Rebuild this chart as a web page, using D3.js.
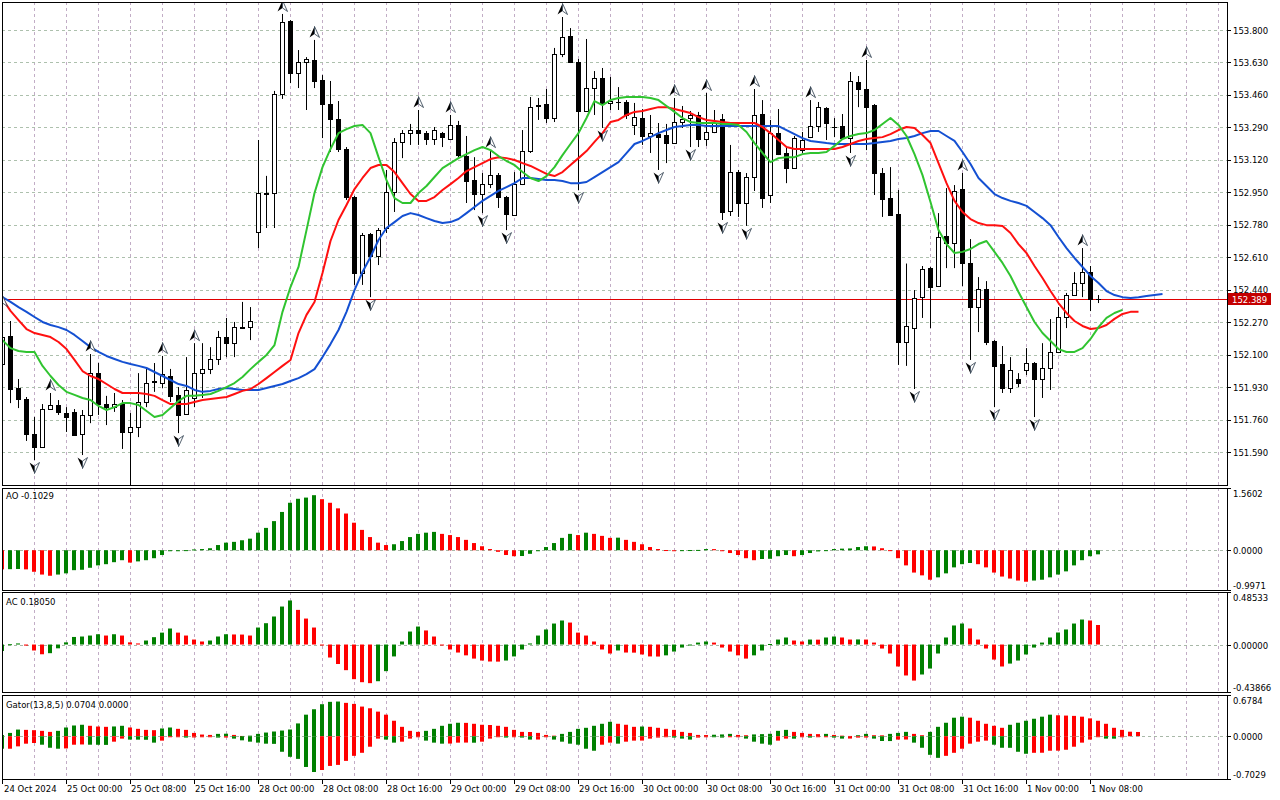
<!DOCTYPE html>
<html>
<head>
<meta charset="utf-8">
<script src="https://cdn.jsdelivr.net/npm/d3@7"></script>
<style>
body{margin:0;background:#fff;}
text{font-family:"DejaVu Sans",Tahoma,sans-serif;font-size:8.5px;fill:#000;}
</style>
</head>
<body>
<div class="chart"></div>
<script>
// USDJPY H1, 24 Oct 16:00 .. 1 Nov 09:00
var opens = [152.051,152.198,151.925,151.868,151.684,151.616,151.815,151.836,151.794,151.800,
151.684,151.784,152.003,151.841,151.825,151.841,151.695,151.720,151.852,151.957,
151.951,151.988,151.889,151.789,151.873,152.003,152.025,152.077,152.192,152.160,
152.244,152.244,152.742,152.941,152.946,153.465,153.847,153.574,153.633,153.643,
153.538,153.412,153.334,153.177,152.925,152.527,152.731,152.617,152.763,152.951,
153.214,153.260,153.276,153.260,153.229,153.260,153.229,153.303,153.140,153.014,
152.941,152.993,153.041,152.925,152.831,152.993,153.166,153.402,153.412,153.339,
153.674,153.769,153.633,153.376,153.496,153.548,153.418,153.423,153.423,153.303,
153.339,153.245,153.255,153.250,153.208,153.318,153.339,153.355,153.229,153.266,
153.334,152.852,153.056,152.894,153.030,153.360,152.936,153.260,153.156,153.077,
153.171,153.239,153.297,153.391,153.292,153.297,153.234,153.527,153.491,153.407,
153.051,152.920,152.836,152.166,152.239,152.401,152.553,152.459,152.721,152.684,
152.967,152.580,152.349,152.443,152.171,152.051,151.925,151.972,152.019,152.056,
151.972,152.030,152.113,152.297,152.412,152.475,152.532,152.391];
var highs = [152.339,152.276,151.972,151.878,151.773,151.841,151.899,151.862,151.825,151.815,
151.810,152.103,152.056,151.884,151.899,151.862,151.794,152.003,152.035,152.056,
152.093,152.025,151.930,152.087,152.160,152.160,152.139,152.224,152.292,152.271,
152.376,152.349,153.224,153.036,153.481,153.884,153.852,153.695,153.658,153.748,
153.564,153.533,153.428,153.187,152.931,152.737,152.737,152.763,153.067,153.234,
153.276,153.308,153.381,153.271,153.292,153.266,153.355,153.324,153.245,153.134,
153.051,153.171,153.051,152.931,153.056,153.276,153.449,153.444,153.491,153.706,
153.868,153.810,153.648,153.753,153.585,153.601,153.554,153.501,153.433,153.418,
153.386,153.355,153.313,153.308,153.444,153.402,153.376,153.371,153.470,153.381,
153.360,153.198,153.067,153.051,153.491,153.433,153.329,153.386,153.187,153.245,
153.266,153.433,153.423,153.396,153.339,153.360,153.580,153.559,153.643,153.412,
153.077,153.082,152.962,152.577,152.438,152.564,152.559,152.841,152.972,152.988,
153.051,152.705,152.506,152.485,152.176,152.145,152.087,152.003,152.134,152.061,
152.160,152.286,152.349,152.423,152.532,152.658,152.564,152.412];
var lows = [152.030,151.846,151.820,151.648,151.548,151.611,151.810,151.784,151.695,151.674,
151.574,151.741,151.784,151.731,151.800,151.606,151.401,151.668,151.825,151.905,
151.925,151.852,151.689,151.784,151.825,151.873,151.998,152.046,152.087,152.087,
152.234,152.176,152.658,152.763,152.763,153.439,153.522,153.496,153.381,153.496,
153.234,153.161,153.161,152.910,152.465,152.465,152.401,152.569,152.737,152.847,
153.129,153.198,153.198,153.198,153.198,153.187,153.224,153.134,152.894,152.857,
152.841,152.972,152.868,152.752,152.826,152.988,153.156,153.329,153.313,153.318,
153.658,153.627,152.962,153.371,153.355,153.287,153.381,153.381,153.334,153.250,
153.198,153.156,153.067,153.103,153.203,153.287,153.187,153.187,153.193,153.260,
152.805,152.826,152.821,152.774,152.957,152.868,152.894,153.145,152.998,153.072,
153.156,153.234,153.266,153.224,153.239,153.224,153.156,153.396,153.171,152.936,
152.821,152.826,152.046,152.041,151.920,152.292,152.239,152.454,152.553,152.553,
152.459,152.072,152.218,152.150,151.825,151.899,151.899,151.930,151.993,151.773,
151.873,151.915,152.108,152.239,152.407,152.401,152.328,152.370];
var closes = [152.192,151.920,151.868,151.684,151.616,151.815,151.836,151.800,151.773,151.679,
151.784,152.003,151.841,151.825,151.841,151.695,151.720,151.852,151.951,151.962,
151.998,151.884,151.784,151.915,152.003,152.025,152.077,152.192,152.160,152.244,
152.239,152.276,152.946,152.946,153.465,153.842,153.574,153.633,153.648,153.533,
153.412,153.334,153.177,152.925,152.527,152.726,152.617,152.752,152.951,153.214,
153.260,153.276,153.260,153.229,153.276,153.239,153.303,153.145,153.009,152.941,
152.993,153.041,152.925,152.836,152.993,153.166,153.396,153.407,153.339,153.674,
153.763,153.633,153.376,153.496,153.548,153.418,153.428,153.425,153.355,153.344,
153.245,153.260,153.239,153.208,153.318,153.334,153.355,153.229,153.266,153.313,
152.847,153.056,152.894,153.030,153.355,152.920,153.260,153.150,153.077,153.234,
153.224,153.297,153.396,153.313,153.292,153.234,153.533,153.491,153.396,153.051,
152.915,152.831,152.166,152.250,152.396,152.548,152.454,152.716,152.684,152.957,
152.580,152.349,152.443,152.166,152.041,151.925,152.019,151.951,152.056,151.972,
152.030,152.113,152.297,152.412,152.475,152.532,152.391,152.389];

// Alligator (jaw 13/8, teeth 8/5, lips 5/3) - shifted forward past the last bar
var jaw = [152.401,152.376,152.349,152.324,152.297,152.271,152.255,152.244,152.229,152.203,
152.171,152.139,152.114,152.093,152.077,152.062,152.051,152.041,152.030,152.009,
151.988,151.967,151.946,151.936,151.915,151.905,151.910,151.920,151.925,151.920,
151.915,151.915,151.915,151.925,151.936,151.946,151.962,151.977,151.998,152.024,
152.087,152.155,152.229,152.324,152.438,152.533,152.611,152.700,152.763,152.794,
152.826,152.841,152.831,152.815,152.800,152.789,152.794,152.810,152.841,152.873,
152.905,152.931,152.957,152.977,152.998,153.025,153.025,153.020,153.014,153.014,
153.009,152.998,152.998,153.004,153.030,153.056,153.082,153.108,153.155,153.203,
153.219,153.239,153.260,153.276,153.292,153.297,153.303,153.303,153.297,153.297,
153.297,153.297,153.297,153.297,153.297,153.297,153.297,153.297,153.276,153.255,
153.234,153.219,153.214,153.208,153.203,153.203,153.203,153.203,153.203,153.208,
153.214,153.219,153.229,153.234,153.245,153.260,153.271,153.271,153.245,153.219,
153.161,153.098,153.025,152.983,152.941,152.920,152.905,152.894,152.879,152.847,
152.815,152.778,152.716,152.658,152.606,152.559,152.512,152.475,152.433,152.412,
152.401,152.396,152.401,152.407,152.412,152.417];
var teeth = [152.391,152.329,152.281,152.234,152.213,152.203,152.192,152.166,152.129,152.072,
152.014,151.988,151.972,151.946,151.920,151.899,151.899,151.899,151.894,151.884,
151.862,151.841,151.841,151.841,151.852,151.862,151.868,151.873,151.878,151.894,
151.910,151.920,151.946,151.977,152.009,152.041,152.072,152.213,152.308,152.376,
152.527,152.695,152.805,152.884,152.967,153.025,153.077,153.093,153.093,153.056,
152.998,152.941,152.905,152.905,152.925,152.962,152.993,153.025,153.061,153.082,
153.103,153.124,153.134,153.129,153.119,153.103,153.088,153.067,153.046,153.035,
153.056,153.093,153.129,153.166,153.214,153.260,153.318,153.329,153.355,153.371,
153.376,153.386,153.396,153.396,153.386,153.376,153.365,153.344,153.329,153.324,
153.318,153.313,153.313,153.313,153.313,153.292,153.260,153.224,153.187,153.177,
153.177,153.177,153.177,153.177,153.177,153.187,153.203,153.219,153.229,153.234,
153.239,153.255,153.276,153.292,153.287,153.250,153.208,153.103,152.998,152.905,
152.847,152.810,152.789,152.778,152.778,152.773,152.737,152.679,152.632,152.564,
152.501,152.433,152.370,152.318,152.276,152.250,152.234,152.239,152.255,152.287,
152.313,152.324,152.324];
var lips = [152.176,152.134,152.119,152.114,152.114,152.041,151.988,151.941,151.905,151.889,
151.873,151.862,151.831,151.810,151.825,151.846,151.846,151.836,151.805,151.773,
151.784,151.820,151.857,151.884,151.884,151.889,151.894,151.910,151.930,151.951,
151.983,152.024,152.062,152.098,152.150,152.324,152.454,152.559,152.752,152.946,
153.082,153.177,153.260,153.281,153.297,153.303,153.260,153.134,153.014,152.920,
152.894,152.894,152.946,152.983,153.030,153.077,153.103,153.129,153.150,153.171,
153.187,153.171,153.140,153.114,153.093,153.056,153.025,153.009,153.035,153.082,
153.145,153.203,153.260,153.339,153.428,153.407,153.433,153.444,153.449,153.449,
153.449,153.444,153.433,153.402,153.371,153.339,153.318,153.313,153.313,153.313,
153.308,153.308,153.303,153.266,153.208,153.156,153.108,153.129,153.134,153.134,
153.150,153.156,153.156,153.161,153.193,153.229,153.245,153.255,153.260,153.276,
153.308,153.339,153.303,153.245,153.150,153.040,152.899,152.752,152.679,152.632,
152.638,152.653,152.679,152.695,152.638,152.580,152.512,152.428,152.349,152.271,
152.213,152.171,152.129,152.114,152.114,152.134,152.182,152.244,152.292,152.318,
152.334];

var fractalUp = [0,6,11,20,24,35,39,52,56,61,70,84,88,94,101,108,120,135];
var fractalDown = [4,10,16,22,46,60,63,72,75,82,86,90,93,106,114,121,124,129];

// Awesome Oscillator
var aoValues = [-0.48,-0.475,-0.47,-0.48,-0.54,-0.61,-0.64,-0.61,-0.58,-0.50,
-0.49,-0.44,-0.38,-0.35,-0.30,-0.25,-0.31,-0.28,-0.25,-0.20,
-0.12,-0.02,-0.005,0.003,0.02,0.03,0.05,0.13,0.19,0.21,
0.25,0.29,0.44,0.56,0.73,0.96,1.19,1.29,1.32,1.38,
1.28,1.19,1.05,0.92,0.69,0.51,0.33,0.19,0.13,0.15,
0.23,0.33,0.41,0.44,0.46,0.41,0.38,0.33,0.26,0.18,
0.10,0.03,-0.04,-0.12,-0.15,-0.145,-0.09,-0.01,0.08,0.18,
0.31,0.41,0.38,0.44,0.41,0.36,0.31,0.315,0.26,0.21,
0.15,0.08,0.03,0.005,-0.005,0.002,0.005,0.008,0.03,0.028,
-0.01,-0.07,-0.12,-0.20,-0.25,-0.22,-0.215,-0.15,-0.12,-0.15,
-0.12,-0.07,-0.03,0.002,0.03,0.04,0.045,0.08,0.10,0.095,
0.05,0.002,-0.20,-0.38,-0.56,-0.63,-0.74,-0.68,-0.58,-0.43,
-0.35,-0.32,-0.35,-0.43,-0.56,-0.66,-0.71,-0.76,-0.79,-0.76,
-0.74,-0.68,-0.61,-0.53,-0.38,-0.25,-0.15,-0.1029];
var aoColors = "rggrrrrggg"+"ggggggrggg"+"gggggggggg"+"gggggggggg"+"rrrrrrrrrg"+
"gggggrrrrr"+"rrrrrggggg"+"ggrgrrrgrr"+"rrrrrggggr"+"rrrrrggggr"+
"gggggggggr"+"rrrrrrrggg"+"ggrrrrrrrg"+"gggggggg";

// Accelerator Oscillator
var acValues = [-0.06,0.003,0.01,-0.01,-0.055,-0.09,-0.08,-0.035,0.02,0.07,
0.074,0.083,0.095,0.083,0.095,0.083,0.02,0.01,0.037,0.068,
0.11,0.148,0.11,0.083,0.046,0.028,0.037,0.074,0.095,0.093,
0.092,0.083,0.157,0.197,0.259,0.351,0.407,0.32,0.24,0.157,
-0.003,-0.12,-0.18,-0.237,-0.32,-0.348,-0.357,-0.339,-0.246,-0.11,
0.028,0.12,0.166,0.13,0.074,-0.006,-0.046,-0.074,-0.10,-0.13,
-0.148,-0.157,-0.158,-0.148,-0.11,-0.046,0.01,0.083,0.139,0.194,
0.222,0.203,0.11,0.083,0.028,-0.046,-0.083,-0.055,-0.074,-0.075,
-0.092,-0.11,-0.111,-0.10,-0.065,-0.028,-0.006,0.018,0.028,0.018,
-0.028,-0.065,-0.10,-0.13,-0.10,-0.055,0.005,0.046,0.065,0.037,
0.028,0.046,0.045,0.065,0.074,0.065,0.046,0.047,0.046,0.018,
-0.037,-0.083,-0.203,-0.286,-0.333,-0.277,-0.222,-0.083,0.065,0.176,
0.194,0.148,0.046,-0.037,-0.139,-0.203,-0.176,-0.148,-0.092,-0.028,
0.018,0.065,0.111,0.139,0.194,0.231,0.222,0.1805];
var acColors = "gggrrrgggg"+"gggrgrrrgg"+"ggrrrrgggr"+"rrgggggrrr"+"rrrrrrrggg"+
"gggrrrrrrr"+"rrrggggggg"+"grrrrrrgrr"+"rrrggggggr"+"rrrrgggggr"+
"rgrggrrgrr"+"rrrrrggggg"+"grrrrrgggg"+"ggggggrr";

// Gator Oscillator (13,8,5): upper = |jaw-teeth|, lower = -|teeth-lips|
var gatorUp = [0.02,0.055,0.11,0.105,0.10,0.089,0.072,0.089,0.144,0.177,
0.189,0.172,0.16,0.155,0.161,0.172,0.144,0.122,0.105,0.10,
0.128,0.144,0.122,0.105,0.055,0.028,0.022,0.039,0.042,0.022,
0.005,0.01,0.039,0.061,0.078,0.094,0.111,0.211,0.355,0.444,
0.527,0.566,0.571,0.549,0.532,0.488,0.46,0.405,0.355,0.255,
0.155,0.089,0.072,0.089,0.122,0.172,0.205,0.222,0.22,0.205,
0.189,0.185,0.172,0.155,0.105,0.072,0.07,0.055,0.022,0.01,
0.039,0.072,0.122,0.139,0.172,0.205,0.238,0.205,0.189,0.155,
0.16,0.155,0.139,0.122,0.105,0.072,0.055,0.022,0.02,0.025,
0.03,0.039,0.022,0.017,0.03,0.035,0.04,0.089,0.105,0.072,
0.055,0.039,0.035,0.039,0.022,0.01,0.005,0.017,0.039,0.017,
0.015,0.039,0.055,0.072,0.039,0.017,0.072,0.155,0.222,0.305,
0.322,0.305,0.255,0.205,0.172,0.139,0.189,0.222,0.255,0.288,
0.322,0.355,0.345,0.34,0.335,0.322,0.294,0.255,0.205,0.139,
0.105,0.075,0.0704];
var gatorUpColors = "gggrrrrggg"+"grrrggrrrr"+"ggrrrrrggr"+"rggggggggg"+"gggrrrrrrr"+
"rrrgggggrr"+"rrrrrrrrrr"+"gggggggrrr"+"grrrrrrrrg"+"ggrrgggggr"+
"rrrgrrrggr"+"rgggrrgggg"+"grrrrrgggg"+"ggrrrrrrrr"+"rrr";
var gatorDown = [-0.205,-0.205,-0.166,-0.122,-0.111,-0.139,-0.189,-0.205,-0.200,-0.139,
-0.135,-0.139,-0.14,-0.142,-0.089,-0.039,-0.055,-0.056,-0.058,-0.105,
-0.072,-0.005,-0.002,-0.022,-0.02,-0.005,-0.003,-0.022,-0.021,-0.039,
-0.067,-0.089,-0.105,-0.122,-0.125,-0.255,-0.338,-0.372,-0.505,-0.588,
-0.555,-0.488,-0.471,-0.405,-0.322,-0.272,-0.172,-0.039,-0.055,-0.105,
-0.089,-0.039,-0.005,-0.072,-0.105,-0.122,-0.12,-0.105,-0.104,-0.106,
-0.089,-0.039,-0.002,-0.022,-0.012,-0.022,-0.055,-0.054,-0.005,-0.055,
-0.089,-0.122,-0.139,-0.205,-0.238,-0.139,-0.105,-0.122,-0.089,-0.072,
-0.071,-0.039,-0.022,-0.005,-0.022,-0.039,-0.055,-0.022,-0.005,-0.01,
-0.022,-0.005,-0.004,-0.039,-0.089,-0.122,-0.139,-0.072,-0.039,-0.04,
-0.01,-0.022,-0.011,-0.005,-0.022,-0.039,-0.038,-0.022,-0.021,-0.039,
-0.078,-0.079,-0.055,-0.054,-0.105,-0.189,-0.305,-0.355,-0.322,-0.272,
-0.205,-0.122,-0.089,-0.072,-0.139,-0.189,-0.19,-0.255,-0.288,-0.272,
-0.271,-0.238,-0.237,-0.222,-0.172,-0.105,-0.055,-0.01,-0.039,-0.040,
-0.017];
var gatorDownColors = "grrrrgggrr"+"rgggrrgggg"+"rrrgrrrgrg"+"gggggggggg"+"rrrrrrrrgg"+
"rrrgggrrrg"+"rrrgrggrrg"+"gggggrrgrr"+"rrrrgggrrg"+"grrggggrrg"+
"rgrrggrrrg"+"ggrrggggrr"+"rrrrgggggr"+"rrrrrrrrgg"+"r";

// axes
var priceTicks = [153.800,153.630,153.460,153.290,153.120,152.950,152.780,152.610,152.440,152.270,152.100,151.930,151.760,151.590];
var lastPrice = 152.389;
var timeLabels = [[0,"24 Oct 2024"],[8,"25 Oct 00:00"],[16,"25 Oct 08:00"],[24,"25 Oct 16:00"],
[32,"28 Oct 00:00"],[40,"28 Oct 08:00"],[48,"28 Oct 16:00"],[56,"29 Oct 00:00"],[64,"29 Oct 08:00"],
[72,"29 Oct 16:00"],[80,"30 Oct 00:00"],[88,"30 Oct 08:00"],[96,"30 Oct 16:00"],[104,"31 Oct 00:00"],
[112,"31 Oct 08:00"],[120,"31 Oct 16:00"],[128,"1 Nov 00:00"],[136,"1 Nov 08:00"]];
var aoRange = [-0.9971, 1.5602];
var acRange = [-0.43866, 0.48533];
var gatorRange = [-0.7029, 0.6784];

function drawChart(){
    var w = 1280, h = 800;
    var left = 2, right = 1227;
    var step = 8;
    var green = "#008000", red = "#ff0000";

    var svg = d3.select(".chart").append("svg")
        .attr("width", w).attr("height", h)
        .style("display","block");

    var x = d3.scaleLinear().domain([0, 1]).range([left, left + step]);
    var xi = function(i){ return Math.round(x(i)); };

    var panes = {
        main:  {top: 2,   bottom: 485},
        ao:    {top: 488, bottom: 590},
        ac:    {top: 592, bottom: 692},
        gator: {top: 695, bottom: 779}
    };
    var y = d3.scaleLinear().domain([151.59, 153.80]).range([452, 30]);
    var yAO = d3.scaleLinear().domain(aoRange).range([panes.ao.bottom, panes.ao.top]);
    var yAC = d3.scaleLinear().domain(acRange).range([panes.ac.bottom, panes.ac.top]);
    var yG = d3.scaleLinear().domain(gatorRange).range([panes.gator.bottom, panes.gator.top]);

    var defs = svg.append("defs");
    Object.keys(panes).forEach(function(k){
        defs.append("clipPath").attr("id","clip-"+k).append("rect")
            .attr("x", left + 1).attr("y", panes[k].top + 1)
            .attr("width", right - left - 1).attr("height", panes[k].bottom - panes[k].top - 1);
    });

    // vertical grid, every 4 bars, all panes
    var vgrid = d3.range(4, 154, 4);
    Object.keys(panes).forEach(function(k){
        svg.append("g").selectAll("line").data(vgrid).enter().append("line")
            .attr("x1", d => xi(d) + 0.5).attr("x2", d => xi(d) + 0.5)
            .attr("y1", panes[k].top).attr("y2", panes[k].bottom)
            .attr("stroke", "#c2adc6").attr("stroke-width", 1)
            .attr("stroke-dasharray", "3,3");
    });

    // horizontal price grid
    svg.append("g").selectAll("line").data(priceTicks).enter().append("line")
        .attr("x1", left).attr("x2", right)
        .attr("y1", d => Math.round(y(d)) + 0.5).attr("y2", d => Math.round(y(d)) + 0.5)
        .attr("stroke", "#adc0ad").attr("stroke-width", 1)
        .attr("stroke-dasharray", "3,3");

    // main pane
    var main = svg.append("g").attr("clip-path", "url(#clip-main)");

    main.append("line")
        .attr("x1", left).attr("x2", right)
        .attr("y1", Math.round(y(lastPrice)) + 0.5).attr("y2", Math.round(y(lastPrice)) + 0.5)
        .attr("stroke", "#e00000").attr("stroke-width", 1);

    var candles = main.append("g").selectAll("g").data(opens).enter().append("g");
    candles.append("line")
        .attr("x1", (d,i) => xi(i) + 0.5).attr("x2", (d,i) => xi(i) + 0.5)
        .attr("y1", (d,i) => y(highs[i])).attr("y2", (d,i) => y(lows[i]))
        .attr("stroke", "#000").attr("stroke-width", 1);
    candles.each(function(d,i){
        var g = d3.select(this);
        var yo = y(opens[i]), yc = y(closes[i]);
        var top = Math.round(Math.min(yo, yc)), bh = Math.round(Math.abs(yo - yc));
        if(bh < 1){
            g.append("line")
                .attr("x1", xi(i) - 2).attr("x2", xi(i) + 3)
                .attr("y1", top + 0.5).attr("y2", top + 0.5)
                .attr("stroke", "#000").attr("stroke-width", 1);
        } else {
            g.append("rect")
                .attr("x", xi(i) - 1.5).attr("y", top + 0.5)
                .attr("width", 4).attr("height", bh)
                .attr("fill", closes[i] >= opens[i] ? "#fff" : "#000")
                .attr("stroke", "#000").attr("stroke-width", 1);
        }
    });

    var line = d3.line().x((d,i) => x(i) + 0.5).y(d => y(d));
    [[jaw,"#1450d2"],[teeth,"#ff1010"],[lips,"#30c430"]].forEach(function(s){
        main.append("path").datum(s[0])
            .attr("fill","none").attr("stroke", s[1]).attr("stroke-width", 2)
            .attr("stroke-linejoin","round")
            .attr("d", line);
    });

    // fractal arrows
    function arrow(g, cx, cy, dir){
        var a = g.append("g").attr("transform", "translate(" + cx + "," + cy + ") scale(1," + dir + ")");
        a.append("path").attr("d","M0,-5.5 L0,2 L-5,5.5 Z").attr("fill","#000");
        a.append("path").attr("d","M0,-5.5 L5,5.5 L0,2 Z").attr("fill","#fff")
            .attr("stroke","#2a3a4a").attr("stroke-width",0.8);
    }
    var fr = main.append("g");
    fractalUp.forEach(function(i){ arrow(fr, xi(i) + 0.5, y(highs[i]) - 8, 1); });
    fractalDown.forEach(function(i){ arrow(fr, xi(i) + 0.5, y(lows[i]) + 8, -1); });

    // histogram helper
    function histogram(key, values, colors, scale){
        var g = svg.append("g").attr("clip-path", "url(#clip-" + key + ")");
        g.append("line")
            .attr("x1", left).attr("x2", right)
            .attr("y1", Math.round(scale(0)) + 0.5).attr("y2", Math.round(scale(0)) + 0.5)
            .attr("stroke", "#a8b8a8").attr("stroke-dasharray","3,3");
        g.selectAll("rect").data(values).enter().append("rect")
            .attr("x", (d,i) => xi(i) - 2)
            .attr("width", 4)
            .attr("y", d => Math.min(scale(d), scale(0)))
            .attr("height", d => Math.max(1, Math.abs(scale(d) - scale(0))))
            .attr("fill", (d,i) => colors[i] == "g" ? green : red);
        return g;
    }
    histogram("ao", aoValues, aoColors, yAO);
    histogram("ac", acValues, acColors, yAC);
    histogram("gator", gatorUp, gatorUpColors, yG);
    histogram("gator", gatorDown, gatorDownColors, yG);

    // pane frames
    Object.keys(panes).forEach(function(k){
        svg.append("rect")
            .attr("x", left + 0.5).attr("y", panes[k].top + 0.5)
            .attr("width", right - left).attr("height", panes[k].bottom - panes[k].top)
            .attr("fill","none").attr("stroke","#000").attr("stroke-width",1);
    });

    // price axis
    var axis = svg.append("g");
    axis.selectAll(".pt").data(priceTicks).enter().append("line")
        .attr("x1", right).attr("x2", right + 4)
        .attr("y1", d => Math.round(y(d)) + 0.5).attr("y2", d => Math.round(y(d)) + 0.5)
        .attr("stroke","#000");
    axis.selectAll(".pl").data(priceTicks).enter().append("text")
        .attr("x", right + 6).attr("y", d => y(d) + 3.5)
        .text(d => d.toFixed(3));

    var py = Math.round(y(lastPrice));
    axis.append("rect").attr("x", right + 1).attr("y", py - 6)
        .attr("width", 43).attr("height", 12).attr("fill","#c40000");
    axis.append("text").attr("x", right + 5).attr("y", py + 3.5)
        .style("fill","#fff").text(lastPrice.toFixed(3));

    function subAxis(pane, scale, vals, digits){
        vals.forEach(function(v){
            var ty = Math.round(scale(v));
            axis.append("line").attr("x1", right).attr("x2", right + 4)
                .attr("y1", ty + 0.5).attr("y2", ty + 0.5).attr("stroke","#000");
            var lty = Math.max(pane.top + 5, Math.min(pane.bottom - 5, ty));
            axis.append("text").attr("x", right + 6).attr("y", lty + 3.5).text(v.toFixed(digits));
        });
    }
    subAxis(panes.ao, yAO, [aoRange[1], 0, aoRange[0]], 4);
    subAxis(panes.ac, yAC, [acRange[1], 0, acRange[0]], 5);
    subAxis(panes.gator, yG, [gatorRange[1], 0, gatorRange[0]], 4);

    // indicator titles
    svg.append("text").attr("x", 6).attr("y", panes.ao.top + 11)
        .text("AO " + aoValues[aoValues.length - 1].toFixed(4));
    svg.append("text").attr("x", 6).attr("y", panes.ac.top + 13)
        .text("AC " + acValues[acValues.length - 1].toFixed(5));
    svg.append("text").attr("x", 6).attr("y", panes.gator.top + 13)
        .text("Gator(13,8,5) " + gatorUp[gatorUp.length - 1].toFixed(4) + " 0.0000");

    // time axis
    var ta = svg.append("g");
    ta.selectAll("line").data(timeLabels).enter().append("line")
        .attr("x1", d => xi(d[0]) + 0.5).attr("x2", d => xi(d[0]) + 0.5)
        .attr("y1", panes.gator.bottom).attr("y2", panes.gator.bottom + 5)
        .attr("stroke","#000");
    ta.selectAll("text").data(timeLabels).enter().append("text")
        .attr("x", d => d[0] == 0 ? 4 : xi(d[0]) + 1)
        .attr("y", panes.gator.bottom + 13)
        .text(d => d[1]);
}

drawChart();
</script>
</body>
</html>
